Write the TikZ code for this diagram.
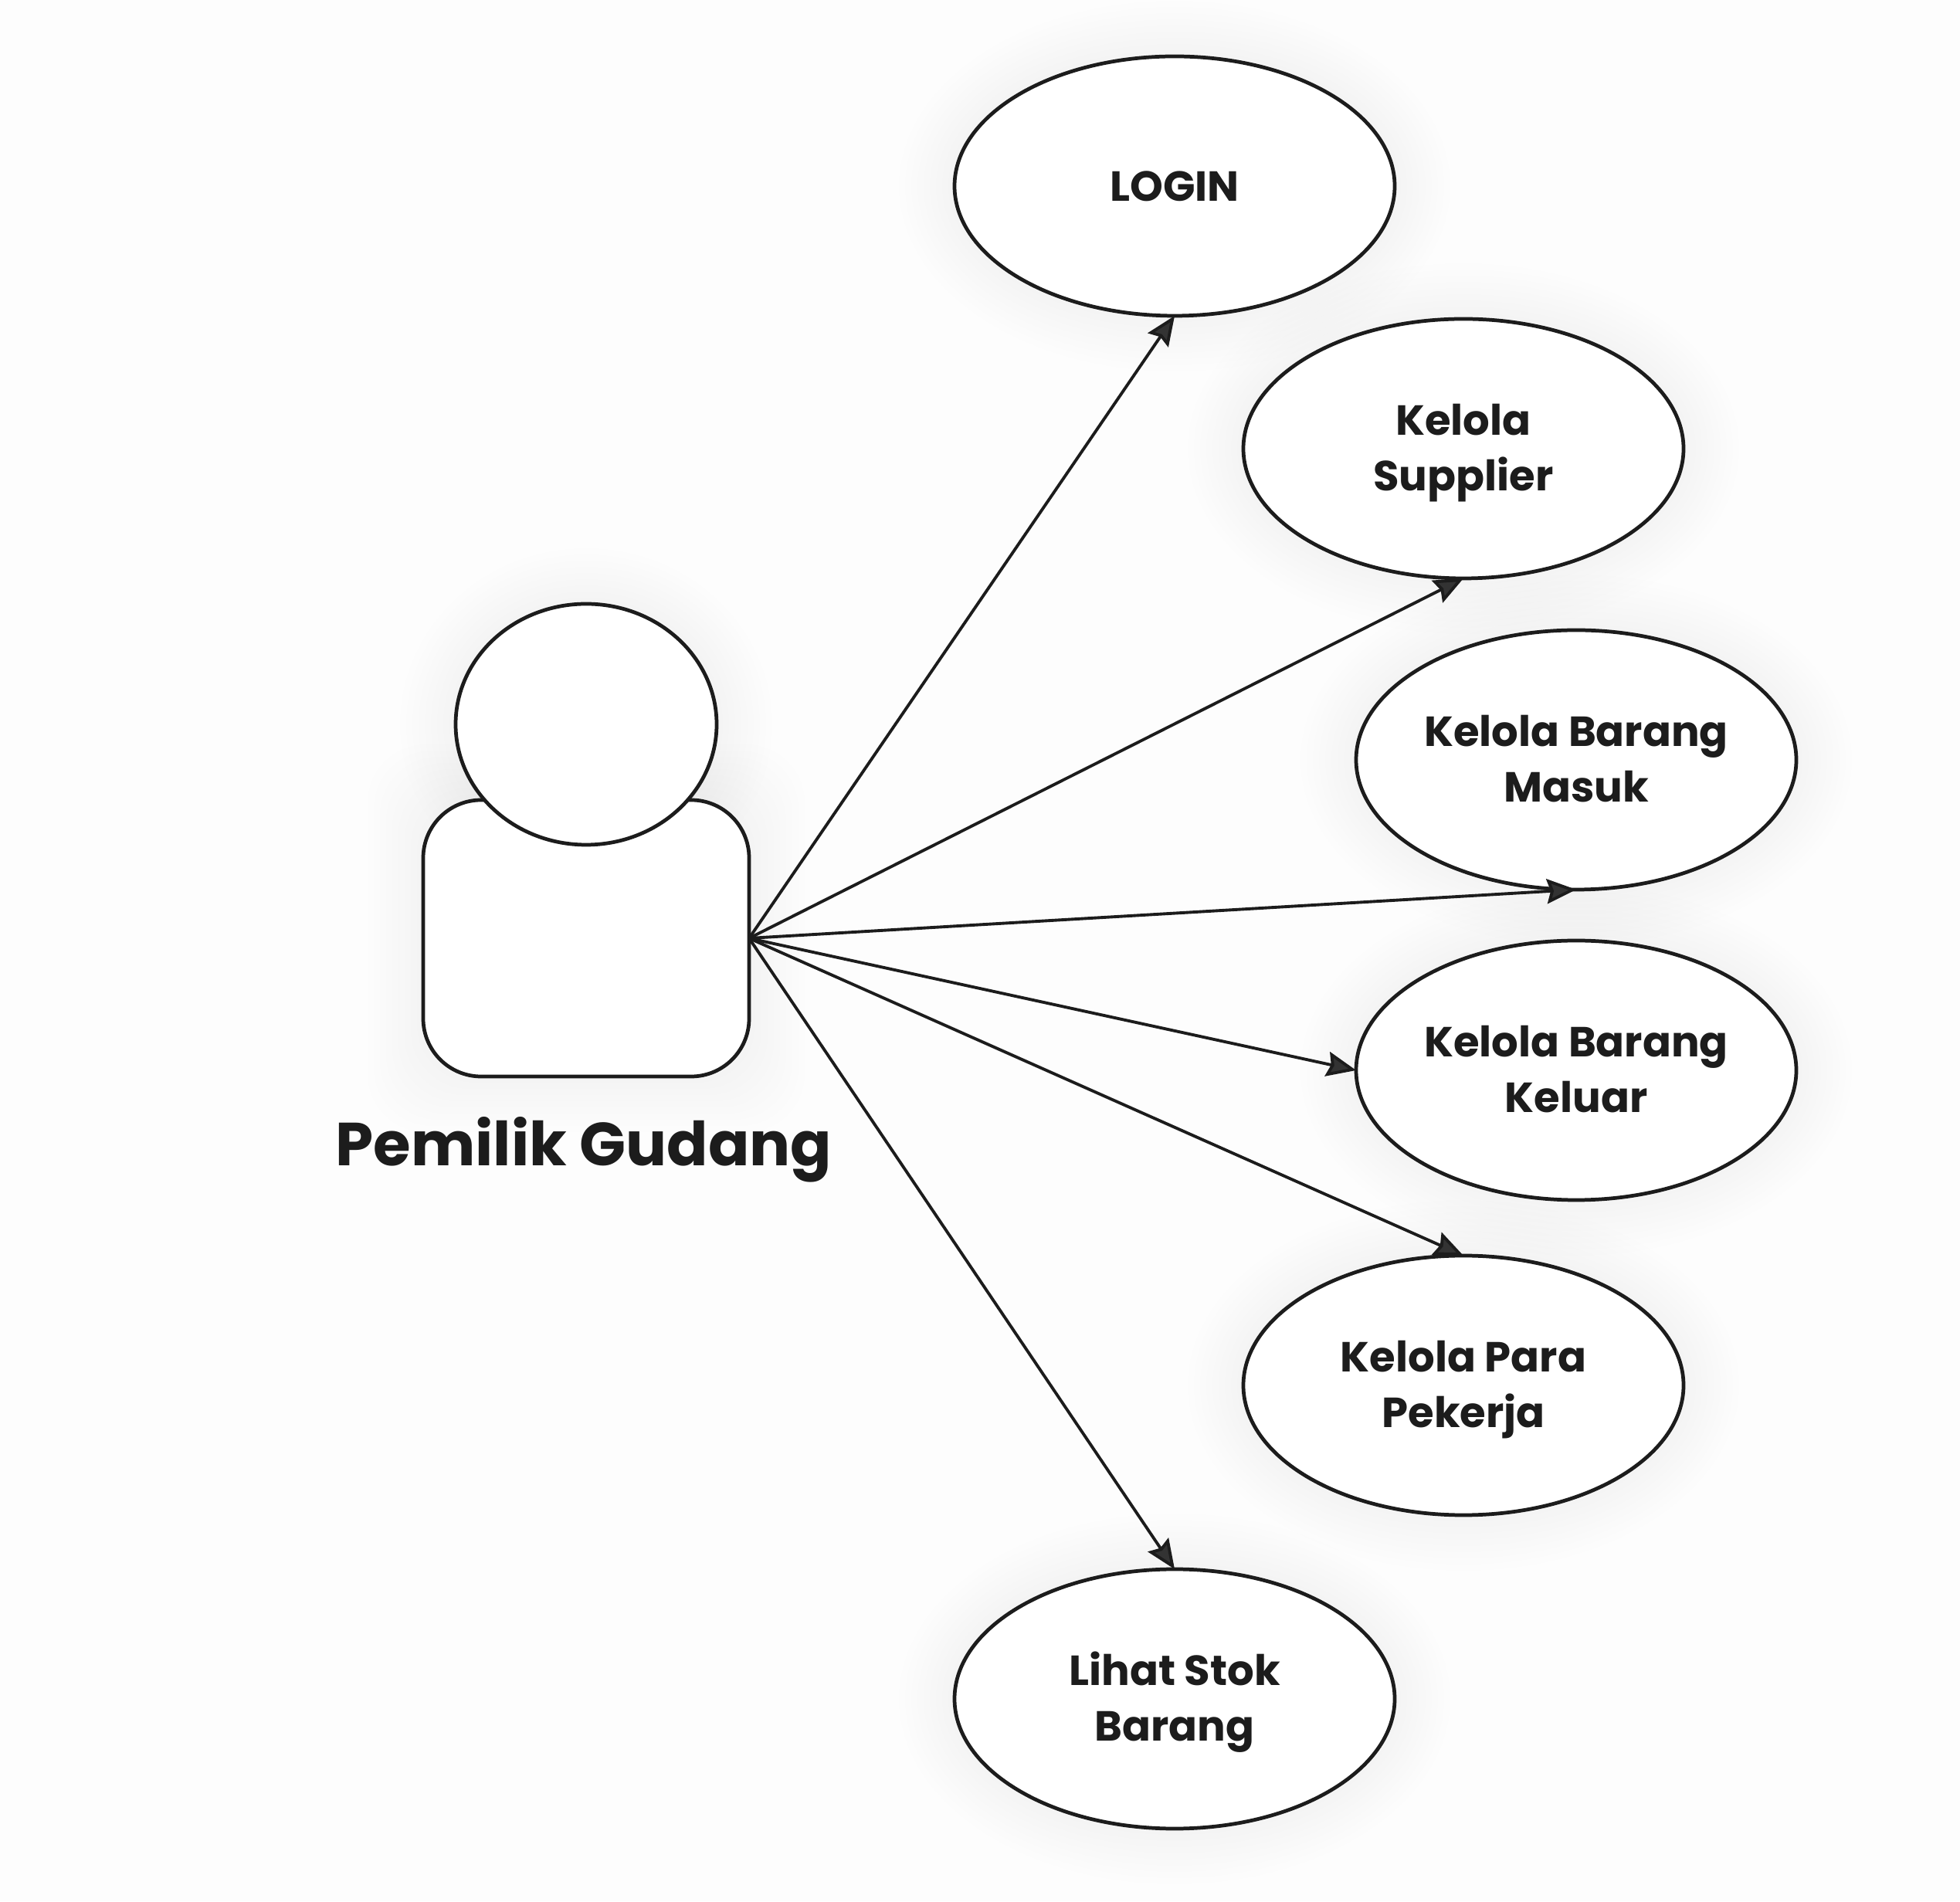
\documentclass[tikz,border=0pt]{standalone}
\usepackage{fontspec}
\setmainfont{Poppins}[BoldFont=* Bold]
\usetikzlibrary{arrows.meta,backgrounds,shapes.geometric}

\definecolor{inkline}{HTML}{1C1C1C}
\definecolor{tipfill}{HTML}{333333}
\definecolor{paper}{HTML}{FDFDFD}

% two centred lines, kept at the same height whatever their letters
\newcommand{\twolines}[2]{\rule{0pt}{15.6pt}#1\\#2\rule[-5pt]{0pt}{0pt}}

\tikzset{
    usecase/.style={draw=inkline, line width=1.35pt, fill=white, ellipse, minimum width=5.7cm, minimum height=3.36cm,
        inner sep=0pt, outer sep=0pt, align=center, text=inkline, font=\fontsize{15.5}{20.5}\selectfont\bfseries},
    actorpart/.style={draw=inkline, line width=1.35pt, fill=white, inner sep=0pt, outer sep=0pt},
    assoc/.style={draw=inkline, line width=1.1pt, -{Stealth[length=0.38cm,width=0.32cm,inset=0.05cm,fill=tipfill]}},
    softglow/.style={fill=black, opacity=0.004, draw=none}
}

\begin{document}
\begin{tikzpicture}
            \useasboundingbox (0,0) rectangle (25.38,24.62);

            % actor
            \node[actorpart, minimum width=4.22cm, minimum height=3.58cm, rounded corners=0.75cm] (body) at (7.59,12.47) {};
            \node[actorpart, ellipse, minimum width=3.38cm, minimum height=3.12cm] (head) at (7.59,15.24) {};
            \node[anchor=base, text=inkline, font=\fontsize{22.4}{26}\selectfont\bfseries] (actorlabel) at (7.56,9.52) {Pemilik Gudang};

            % use cases
            \node[usecase] (login) at (15.21,22.21) {LOGIN};
            \node[usecase] (supplier) at (18.95,18.81) {\twolines{Kelola}{Supplier}};
            \node[usecase] (masuk) at (20.41,14.78) {\twolines{Kelola Barang}{Masuk}};
            \node[usecase] (keluar) at (20.41,10.76) {\twolines{Kelola Barang}{Keluar}};
            \node[usecase] (pekerja) at (18.95,6.68) {\twolines{Kelola Para}{Pekerja}};
            \node[usecase] (stok) at (15.21,2.62) {\twolines{Lihat Stok}{Barang}};

            % soft shadows
            \begin{scope}[on background layer]
                \fill[paper] (0,0) rectangle (25.38,24.62);
                \foreach \g in {0.08,0.16,...,0.8} {
                    \foreach \n in {login,supplier,masuk,keluar,pekerja,stok} {
                        \fill[softglow] (\n) ellipse ({2.85+\g} and {1.68+\g});
                    }
                    \fill[softglow] (head) ellipse ({1.69+\g} and {1.56+\g});
                    \fill[softglow, rounded corners=0.75cm] ([shift={(-\g,-\g)}]body.south west) rectangle ([shift={(\g,\g)}]body.north east);
                }
            \end{scope}

            % associations
            \draw[assoc] (body.east) -- (login.south);
            \draw[assoc] (body.east) -- (supplier.south);
            \draw[assoc] (body.east) -- (masuk.south);
            \draw[assoc] (body.east) -- (keluar.west);
            \draw[assoc] (body.east) -- (pekerja.north);
            \draw[assoc] (body.east) -- (stok.north);
        \end{tikzpicture}
\end{document}
